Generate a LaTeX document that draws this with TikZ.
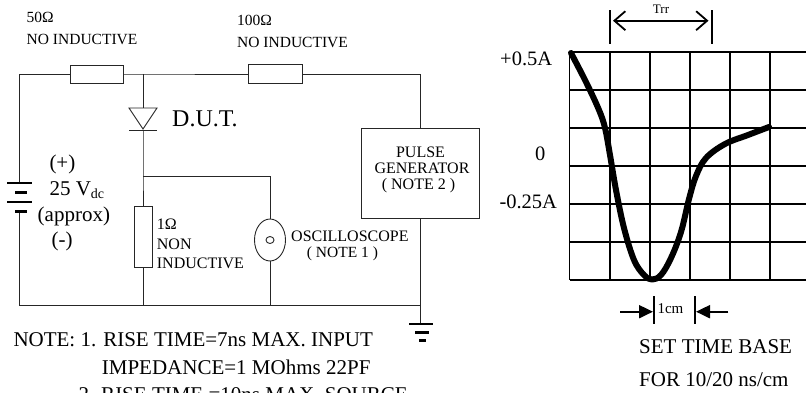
\documentclass[tikz,border=0pt]{standalone}
\usepackage{fontspec}
\setmainfont{Liberation Serif}
\usetikzlibrary{arrows.meta,shapes.geometric}
\newcommand\setfs[1]{\fontsize{#1}{#1}\selectfont}
\begin{document}
\begin{tikzpicture}[x=1pt,y=-1pt,
  wire/.style={line width=0.9pt, draw=black!85},
  comp/.style={draw=black!85, line width=0.9pt, fill=white, inner sep=0pt},
  lbl/.style={inner sep=0pt, anchor=base west, text=black},
  lblc/.style={inner sep=0pt, anchor=base, text=black},
  gridline/.style={line width=1.4pt},
  batlong/.style={line width=2.4pt},
  batshort/.style={line width=3pt},
  gndbar/.style={line width=2.6pt},
  dimbar/.style={line width=2pt},
]
\path[use as bounding box] (0,0) rectangle (806,392);

% ---------- components ----------
\node[comp, rectangle, minimum width=53pt, minimum height=18pt] (r50) at (97,74) {};
\node[comp, rectangle, minimum width=54pt, minimum height=19pt] (r100) at (275,74) {};
\node[comp, rectangle, minimum width=18pt, minimum height=61pt] (r1) at (143,236.5) {};
\node[comp, ellipse, minimum width=31pt, minimum height=42pt] (osc) at (270,240) {};
\node[comp, ellipse, minimum width=8pt, minimum height=7pt] (osci) at (270,240) {};
\node[comp, rectangle, minimum width=118pt, minimum height=90pt] (pg) at (420.5,173) {};

% ---------- coordinates ----------
\coordinate (tl) at (19,74);
\coordinate (j1) at (143,74);
\coordinate (tr) at (420.5,74);
\coordinate (dt) at (143,108);
\coordinate (db) at (143,130);
\coordinate (j2) at (143,176);
\coordinate (j2r) at (270,176);
\coordinate (bt) at (19,183);
\coordinate (bb) at (19,211);
\coordinate (bl) at (19,305.5);
\coordinate (b1) at (143,305.5);
\coordinate (b2) at (270,305.5);
\coordinate (br) at (420.5,305.5);
\coordinate (gnd) at (420.5,324);

% ---------- wires ----------
\draw[wire] (bt) -- (tl) -- (r50.west);
\draw[wire] (r50.east) -- (j1) -- (r100.west);
\draw[wire] (r100.east) -- (tr) -- (pg.north);
\draw[wire] (j1) -- (dt);
\draw[wire] (db) -- (j2) -- (r1.north);
\draw[wire] (j2) -- (j2r) -- (osc.north);
\draw[wire] (bb) -- (bl) -- (b1) -- (b2) -- (br);
\draw[wire] (r1.south) -- (b1);
\draw[wire] (osc.south) -- (b2);
\draw[wire] (pg.south) -- (br) -- (gnd);

% diode
\draw[wire, fill=white] (129,108) -- (157,108) -- (143,129) -- cycle;
\draw[wire] (129,130) -- (157,130);

% battery
\draw[batlong] (7,183) -- (32,183);
\draw[batshort] (15,192) -- (27,192);
\draw[batlong] (7,202) -- (32,202);
\draw[batshort] (15,211) -- (27,211);

% ground
\draw[gndbar] (409,324) -- (433,324);
\draw[gndbar] (415,332.7) -- (429,332.7);
\draw[gndbar] (419,340.7) -- (426,340.7);

% ---------- circuit labels ----------
\node[lbl] (t50) at (26.5,22.5) {\setfs{15.5}50Ω};
\node[lbl] (t50b) at (26.5,44) {\setfs{15.5}NO INDUCTIVE};
\node[lbl] (t100) at (237,25) {\setfs{15.5}100Ω};
\node[lbl] (t100b) at (237,47.5) {\setfs{15.5}NO INDUCTIVE};
\node[lbl] (tdut) at (172,126.7) {\setfs{24}D.U.T.};
\node[lbl] (tplus) at (49.3,169.5) {\setfs{21}(+)};
\node[lbl] (tv) at (49.3,195.7) {\setfs{21}25 V\raisebox{-0.3ex}{\setfs{14}dc}};
\node[lbl] (tapprox) at (37.5,221.2) {\setfs{21}(approx)};
\node[lbl] (tminus) at (51.5,246) {\setfs{21}(-)};
\node[lbl] (t1) at (156.7,229) {\setfs{16}1Ω};
\node[lbl] (t1b) at (156.7,249.3) {\setfs{16}NON};
\node[lbl] (t1c) at (156.7,268.3) {\setfs{16}INDUCTIVE};
\node[lbl] (tosc) at (291,241.7) {\setfs{16}OSCILLOSCOPE};
\node[lbl] (tosc2) at (306.7,257.5) {\setfs{15.5}( NOTE 1 )};
\node[lblc] (tpg1) at (420.5,157.3) {\setfs{16}PULSE};
\node[lblc] (tpg2) at (422,173.3) {\setfs{16}GENERATOR};
\node[lblc] (tpg3) at (418.5,189.3) {\setfs{16}( NOTE 2 )};

% notes
\node[lbl] (n1) at (13.3,346.7) {\setfs{21}NOTE: 1. RISE TIME=7ns MAX. INPUT};
\node[lbl] (n2) at (101.7,374) {\setfs{21}IMPEDANCE=1 MOhms 22PF};
\node[lbl] (n3) at (78.3,401.3) {\setfs{21}2. RISE TIME =10ns MAX. SOURCE};

% ---------- scope grid ----------
\foreach \gx in {569.5,610,650,690,730,770}
  \draw[gridline] (\gx,52) -- (\gx,280);
\foreach \gy in {52,90,128,166,204,242,280}
  \draw[gridline] (569.5,\gy) -- (806,\gy);

\draw[line width=6pt, line cap=round, line join=round]
  plot[smooth, tension=0.6] coordinates {
  (571,53) (586,82) (599,110) (605,128) (610,155)
  (616,190) (624,228) (634,260) (644,275) (652,279.5) (661,275)
  (671,258) (681,232) (689,199) (696,176) (706,158)
  (725,144) (748,135) (769,127)};

% axis labels
\node[lbl] (ya) at (500,65) {\setfs{20.5}+0.5A};
\node[lbl] (yb) at (535,160.7) {\setfs{20.5}0};
\node[lbl] (yc) at (499.3,208.3) {\setfs{20.5}-0.25A};

% Trr
\coordinate (trl) at (610,20.7);
\coordinate (trr) at (711.5,20.7);
\draw[dimbar] (610,10) -- (610,44);
\draw[dimbar] (711.5,10) -- (711.5,44);
\draw[line width=1.8pt, {Straight Barb[length=11pt,width=19pt]}-{Straight Barb[length=11pt,width=19pt]}]
  ([xshift=3pt]trl) -- ([xshift=-3pt]trr);
\node[lblc] (ttrr) at (661,13.3) {\setfs{13}Trr};

% 1cm
\coordinate (cml) at (654,311.7);
\coordinate (cmr) at (695,311.7);
\coordinate (cmla) at (620,311.7);
\coordinate (cmra) at (728.3,311.7);
\draw[dimbar] (654,296) -- (654,324);
\draw[dimbar] (695,296) -- (695,324);
\draw[line width=2pt, -{Triangle[length=14pt,width=13pt]}] (cmla) -- ([xshift=-1pt]cml);
\draw[line width=2pt, -{Triangle[length=14pt,width=13pt]}] (cmra) -- ([xshift=1pt]cmr);
\node[lbl] (tcm) at (657.3,313.3) {\setfs{15}1cm};

\node[lbl] (st1) at (639,353.3) {\setfs{21}SET TIME BASE};
\node[lbl] (st2) at (639,386) {\setfs{21}FOR 10/20 ns/cm};
\end{tikzpicture}
\end{document}
